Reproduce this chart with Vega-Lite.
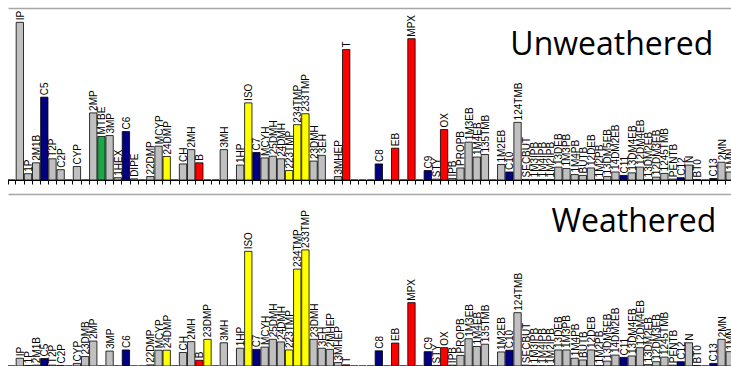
{
  "$schema": "https://vega.github.io/schema/vega-lite/v6.json",
  "padding": {"left": 7, "top": 8, "right": 0, "bottom": 0},
  "spacing": 9,
  "config": {"view": {"stroke": null}, "font": "Liberation Sans"},
  "datasets": {
    "d": [
      {"c": "n0", "g": "o", "u": 0, "w": 0},
      {"c": "IP", "g": "o", "u": 5.5, "w": 0.27},
      {"c": "1P", "g": "o", "u": 0.22, "w": 0.02},
      {"c": "2M1B", "g": "o", "u": 0.6, "w": 0.03},
      {"c": "C5", "g": "n", "u": 2.89, "w": 0.26},
      {"c": "T2P", "g": "o", "u": 0.74, "w": 0.03},
      {"c": "C2P", "g": "o", "u": 0.36, "w": 0.02},
      {"c": "22DMB", "g": "o", "u": 0, "w": 0},
      {"c": "CYP", "g": "o", "u": 0.47, "w": 0.09},
      {"c": "23DMB", "g": "o", "u": 0, "w": 0.33},
      {"c": "2MP", "g": "o", "u": 2.34, "w": 0.87},
      {"c": "MTBE", "g": "m", "u": 1.52, "w": 0},
      {"c": "3MP", "g": "o", "u": 1.55, "w": 0.52},
      {"c": "1HEX", "g": "o", "u": 0.08, "w": 0},
      {"c": "C6", "g": "n", "u": 1.69, "w": 0.56},
      {"c": "DIPE", "g": "o", "u": 0.04, "w": 0},
      {"c": "n16", "g": "o", "u": 0, "w": 0},
      {"c": "22DMP", "g": "o", "u": 0.12, "w": 0.04},
      {"c": "MCYP", "g": "o", "u": 1.18, "w": 0.55},
      {"c": "24DMP", "g": "y", "u": 0.82, "w": 0.55},
      {"c": "n20", "g": "o", "u": 0, "w": 0},
      {"c": "CH", "g": "o", "u": 0.56, "w": 0.47},
      {"c": "2MH", "g": "o", "u": 1.06, "w": 0.85},
      {"c": "B", "g": "r", "u": 0.6, "w": 0.2},
      {"c": "23DMP", "g": "y", "u": 0, "w": 0.93},
      {"c": "n25", "g": "o", "u": 0, "w": 0},
      {"c": "3MH", "g": "o", "u": 1.06, "w": 0.81},
      {"c": "n27", "g": "o", "u": 0, "w": 0},
      {"c": "1HP", "g": "o", "u": 0.52, "w": 0.62},
      {"c": "ISO", "g": "y", "u": 2.69, "w": 4.0},
      {"c": "C7", "g": "n", "u": 0.96, "w": 0.58},
      {"c": "MCYH", "g": "o", "u": 0.77, "w": 0.66},
      {"c": "25DMH", "g": "o", "u": 0.83, "w": 0.93},
      {"c": "24DMH", "g": "o", "u": 0.74, "w": 0.84},
      {"c": "223TMP", "g": "y", "u": 0.33, "w": 0.56},
      {"c": "234TMP", "g": "y", "u": 1.93, "w": 3.38},
      {"c": "233TMP", "g": "y", "u": 2.31, "w": 4.05},
      {"c": "23DMH", "g": "o", "u": 0.66, "w": 0.93},
      {"c": "3EH", "g": "o", "u": 0.86, "w": 0.62},
      {"c": "2MHEP", "g": "o", "u": 0, "w": 0.58},
      {"c": "3MHEP", "g": "o", "u": 0.12, "w": 0.12},
      {"c": "T", "g": "r", "u": 4.55, "w": 0.04},
      {"c": "n42", "g": "o", "u": 0, "w": 0},
      {"c": "n43", "g": "o", "u": 0, "w": 0},
      {"c": "n44", "g": "o", "u": 0, "w": 0},
      {"c": "C8", "g": "n", "u": 0.56, "w": 0.53},
      {"c": "n46", "g": "o", "u": 0, "w": 0},
      {"c": "EB", "g": "r", "u": 1.11, "w": 0.8},
      {"c": "n48", "g": "o", "u": 0, "w": 0},
      {"c": "MPX", "g": "r", "u": 4.93, "w": 2.21},
      {"c": "n50", "g": "o", "u": 0, "w": 0},
      {"c": "C9", "g": "n", "u": 0.33, "w": 0.5},
      {"c": "STY", "g": "o", "u": 0.03, "w": 0.02},
      {"c": "OX", "g": "r", "u": 1.76, "w": 0.64},
      {"c": "IPB", "g": "o", "u": 0.05, "w": 0.03},
      {"c": "PROPB", "g": "o", "u": 0.42, "w": 0.37},
      {"c": "1M3EB", "g": "o", "u": 1.32, "w": 0.95},
      {"c": "1M4EB", "g": "o", "u": 0.8, "w": 0.68},
      {"c": "135TMB", "g": "o", "u": 0.89, "w": 0.76},
      {"c": "n59", "g": "o", "u": 0, "w": 0},
      {"c": "1M2EB", "g": "o", "u": 0.54, "w": 0.49},
      {"c": "C10", "g": "n", "u": 0.28, "w": 0.55},
      {"c": "124TMB", "g": "o", "u": 2.01, "w": 1.86},
      {"c": "SECBUT", "g": "o", "u": 0.02, "w": 0.03},
      {"c": "1M3IPB", "g": "o", "u": 0.02, "w": 0.02},
      {"c": "1M4IPB", "g": "o", "u": 0.02, "w": 0.01},
      {"c": "1M2IPB", "g": "o", "u": 0.02, "w": 0.01},
      {"c": "13DEB", "g": "o", "u": 0.45, "w": 0.56},
      {"c": "1M3PB", "g": "o", "u": 0.4, "w": 0.56},
      {"c": "1M4PB", "g": "o", "u": 0.19, "w": 0.27},
      {"c": "BUTB", "g": "o", "u": 0.16, "w": 0.21},
      {"c": "12DEB", "g": "o", "u": 0.42, "w": 0.56},
      {"c": "1M2PB", "g": "o", "u": 0.02, "w": 0.02},
      {"c": "13DM5EB", "g": "o", "u": 0.12, "w": 0.17},
      {"c": "14DM2EB", "g": "o", "u": 0.28, "w": 0.38},
      {"c": "C11", "g": "n", "u": 0.16, "w": 0.3},
      {"c": "13DM4EB", "g": "o", "u": 0.25, "w": 0.35},
      {"c": "12DM4EB", "g": "o", "u": 0.45, "w": 0.64},
      {"c": "13DM2EB", "g": "o", "u": 0.02, "w": 0.05},
      {"c": "12DM3EB", "g": "o", "u": 0.1, "w": 0.15},
      {"c": "1245TMB", "g": "o", "u": 0.23, "w": 0.31},
      {"c": "PENTB", "g": "o", "u": 0.03, "w": 0.03},
      {"c": "C12", "g": "n", "u": 0.08, "w": 0.15},
      {"c": "N", "g": "o", "u": 0.52, "w": 0.81},
      {"c": "BT0", "g": "o", "u": 0.02, "w": 0.02},
      {"c": "n85", "g": "o", "u": 0, "w": 0},
      {"c": "C13", "g": "n", "u": 0.05, "w": 0.09},
      {"c": "2MN", "g": "o", "u": 0.62, "w": 0.93},
      {"c": "1MN", "g": "o", "u": 0.28, "w": 0.5}
    ]
  },
  "vconcat": [
    {
      "width": 725.35,
      "height": 172,
      "resolve": {"axis": {"x": "independent"}},
      "layer": [
        {
          "data": {"name": "d"},
          "mark": {"type": "bar", "stroke": "black", "strokeWidth": 0.8},
          "encoding": {
            "x": {"field": "c", "type": "nominal", "sort": null, "scale": {"paddingInner": 0.1, "paddingOuter": 0},
              "axis": {"orient": "bottom", "labels": false, "title": null, "ticks": true, "tickBand": "extent", "tickSize": 4, "tickColor": "black", "domainColor": "black", "grid": false}},
            "y": {"field": "u", "type": "quantitative", "scale": {"domain": [0, 6], "nice": false},
              "axis": {"labels": false, "title": null, "values": [0, 1, 2, 3, 4, 5, 6], "tickSize": 3, "tickColor": "black", "domainColor": "black", "grid": false}},
            "color": {"field": "g", "type": "nominal", "legend": null,
              "scale": {"domain": ["o", "n", "m", "y", "r"], "range": ["#C0C0C0", "#000080", "#1EA64B", "#FFFF00", "#FF0000"]}}
          }
        },
        {
          "data": {"name": "d"},
          "mark": {"type": "text", "angle": 270, "align": "left", "baseline": "middle", "dx": 2, "dy": 1, "fontSize": 10, "font": "Liberation Sans", "color": "black"},
          "encoding": {
            "x": {"field": "c", "type": "nominal", "sort": null,
              "axis": {"orient": "top", "labels": false, "title": null, "ticks": false, "domainColor": "#A6A6A6", "domainWidth": 1.5, "grid": false}},
            "y": {"field": "u", "type": "quantitative"},
            "text": {"condition": {"test": "datum.u > 0", "field": "c"}, "value": ""}
          }
        },
        {
          "data": {"values": [{"t": "Unweathered"}]},
          "mark": {"type": "text", "align": "right", "baseline": "alphabetic", "dx": 0, "font": "Open Sans", "fontSize": 32, "color": "black"},
          "encoding": {
            "x": {"datum": "C13", "type": "nominal", "axis": null},
            "y": {"datum": 4.37, "type": "quantitative", "axis": null},
            "text": {"field": "t"}
          }
        }
      ]
    },
    {
      "width": 725.35,
      "height": 172,
      "resolve": {"axis": {"x": "independent"}},
      "layer": [
        {
          "data": {"name": "d"},
          "mark": {"type": "bar", "stroke": "black", "strokeWidth": 0.8},
          "encoding": {
            "x": {"field": "c", "type": "nominal", "sort": null, "scale": {"paddingInner": 0.1, "paddingOuter": 0},
              "axis": {"orient": "bottom", "labels": false, "title": null, "ticks": true, "tickBand": "extent", "tickSize": 4, "tickColor": "black", "domainColor": "black", "grid": false}},
            "y": {"field": "w", "type": "quantitative", "scale": {"domain": [0, 6], "nice": false},
              "axis": {"labels": false, "title": null, "values": [0, 1, 2, 3, 4, 5, 6], "tickSize": 3, "tickColor": "black", "domainColor": "black", "grid": false}},
            "color": {"field": "g", "type": "nominal", "legend": null,
              "scale": {"domain": ["o", "n", "m", "y", "r"], "range": ["#C0C0C0", "#000080", "#1EA64B", "#FFFF00", "#FF0000"]}}
          }
        },
        {
          "data": {"name": "d"},
          "mark": {"type": "text", "angle": 270, "align": "left", "baseline": "middle", "dx": 2, "dy": 1, "fontSize": 10, "font": "Liberation Sans", "color": "black"},
          "encoding": {
            "x": {"field": "c", "type": "nominal", "sort": null,
              "axis": {"orient": "top", "labels": false, "title": null, "ticks": false, "domainColor": "#A6A6A6", "domainWidth": 1.5, "grid": false}},
            "y": {"field": "w", "type": "quantitative"},
            "text": {"condition": {"test": "datum.w > 0", "field": "c"}, "value": ""}
          }
        },
        {
          "data": {"values": [{"t": "Weathered"}]},
          "mark": {"type": "text", "align": "right", "baseline": "alphabetic", "dx": 3, "font": "Open Sans", "fontSize": 32, "color": "black"},
          "encoding": {
            "x": {"datum": "C13", "type": "nominal", "axis": null},
            "y": {"datum": 4.66, "type": "quantitative", "axis": null},
            "text": {"field": "t"}
          }
        }
      ]
    }
  ]
}
